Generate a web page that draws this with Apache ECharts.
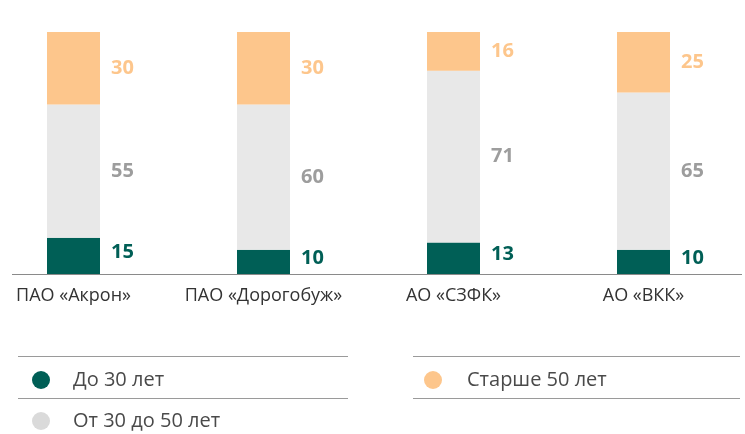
<!DOCTYPE html>
<html>
<head>
<meta charset="utf-8">
<script src="https://cdn.jsdelivr.net/npm/echarts@6/dist/echarts.min.js"></script>
<style>
  html, body { margin: 0; padding: 0; background: #fff; }
  #chart { width: 745px; height: 434px; }
</style>
</head>
<body>
<div id="chart"></div>
<script>
    // данные
    var categories = ['ПАО «Акрон»', 'ПАО «Дорогобуж»', 'АО «СЗФК»', 'АО «ВКК»'];
    var under30 = [15, 10, 13, 10];
    var from30to50 = [55, 60, 71, 65];
    var over50 = [30, 30, 16, 25];

    var GREEN = '#005f56', GREY = '#e8e8e8', ORANGE = '#fdc68c';
    var FONT = '"Open Sans", "Noto Sans", sans-serif';

    var chart = echarts.init(document.getElementById('chart'));

    function lbl(color, off) {
        return {
            show: true,
            position: 'right',
            distance: 11,
            offset: off || [0, 0],
            color: color,
            fontFamily: FONT,
            fontWeight: 'bold',
            fontSize: 20
        };
    }

    // горизонтальные линии (ось и рамка легенды)
    function hline(x1, x2, y, color) {
        return { type: 'line', shape: { x1: x1, y1: y, x2: x2, y2: y },
                 style: { stroke: color, lineWidth: 1 }, silent: true };
    }

    function legendText(pad) {
        return { color: '#4a4a4a', fontFamily: FONT, fontSize: 20, padding: [0, 0, 0, pad] };
    }

    chart.setOption({
        animation: false,
        // категории в точках 73.5 ... 643.5 px
        grid: { left: 73.5, right: 101.5, top: 32, bottom: 160 },
        xAxis: {
            type: 'category',
            data: categories,
            boundaryGap: false,
            axisLine: { show: false },
            axisTick: { show: false },
            axisLabel: { color: '#333', fontFamily: FONT, fontSize: 18, margin: 13, interval: 0 }
        },
        yAxis: { type: 'value', min: 0, max: 100, show: false },
        legend: [
            { left: 32, top: 370, padding: 0, itemWidth: 18, itemHeight: 18, icon: 'circle',
              data: ['До 30 лет'], textStyle: legendText(18) },
            { left: 424, top: 370, padding: 0, itemWidth: 18, itemHeight: 18, icon: 'circle',
              data: ['Старше 50 лет'], textStyle: legendText(20) },
            { left: 32, top: 411, padding: 0, itemWidth: 18, itemHeight: 18, icon: 'circle',
              data: [{ name: 'От 30 до 50 лет', itemStyle: { color: '#dadada' } }],
              textStyle: legendText(18) }
        ],
        graphic: [
            hline(12, 742, 274.5, '#8a8a8a'),
            hline(18, 348, 356.5, '#9a9a9a'),
            hline(18, 348, 398.5, '#9a9a9a'),
            hline(413, 740, 356.5, '#9a9a9a'),
            hline(413, 740, 398.5, '#9a9a9a')
        ],
        series: [
            { name: 'До 30 лет', type: 'bar', stack: 'all', barWidth: 53,
              itemStyle: { color: GREEN }, label: lbl(GREEN, [0, -4]), data: under30 },
            { name: 'От 30 до 50 лет', type: 'bar', stack: 'all', barWidth: 53,
              itemStyle: { color: GREY }, label: lbl('#9d9d9d'), data: from30to50 },
            { name: 'Старше 50 лет', type: 'bar', stack: 'all', barWidth: 53,
              itemStyle: { color: ORANGE }, label: lbl(ORANGE), data: over50 }
        ]
    });
</script>
</body>
</html>
